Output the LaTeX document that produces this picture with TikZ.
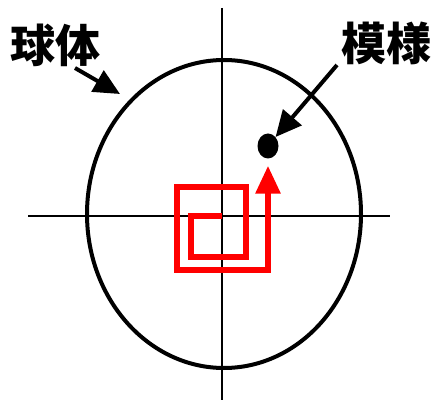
\documentclass[tikz,border=0pt]{standalone}
\usepackage{fontspec}
\newfontfamily\cjk{Noto Sans CJK JP}
\usetikzlibrary{arrows.meta, positioning, shapes.geometric}

\begin{document}
\begin{tikzpicture}[
  x=1pt, y=-1pt,
  axis/.style={draw=black, line width=1.3pt},
  sphere/.style={draw=black, line width=4pt},
  label/.style={font=\cjk\bfseries\fontsize{45}{50}\selectfont, inner sep=0pt},
  pointer/.style={draw=black, line width=4pt, -{Triangle[length=26pt, width=24pt]}},
  walk/.style={draw=red, line width=6pt, line join=miter, -{Triangle[length=28pt, width=24pt]}}
]
\useasboundingbox (0,0) rectangle (431,403);

% Axes
\draw[axis] (222,8) -- (222,400);
\draw[axis] (28,216) -- (390,216);

% Sphere
\draw[sphere] (224,214) ellipse [x radius=137, y radius=154];

% Labels and pattern
\node[label] (sphlbl) at (55,45) {球体};
\node[label] (patlbl) at (386,43) {模様};
\node[ellipse, fill=black, minimum width=21pt, minimum height=25pt, inner sep=0pt] (dot) at (268,146) {};
\coordinate (rim) at (120,94);

% Pointers
\draw[pointer] (75,68) -- (rim);
\draw[pointer] (337,65) -- (dot.north east);

% Red spiral walk
\draw[walk] (222,216) -- (191,216) -- (191,257) -- (246,257) -- (246,187)
  -- (177,187) -- (177,270) -- (268,270) -- ([yshift=-7pt]dot.south);

\end{tikzpicture}
\end{document}
